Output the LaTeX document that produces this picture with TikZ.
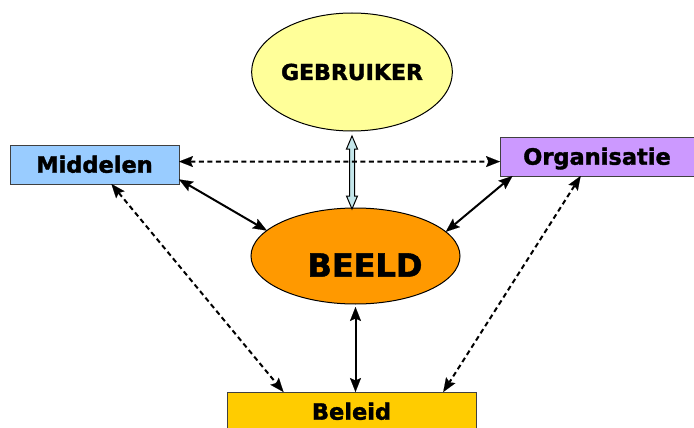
\documentclass[tikz,border=0pt]{standalone}
\usepackage{fontspec}
\setmainfont{DejaVu Sans}
\newfontfamily\heavy{DejaVu Sans Bold}[FakeBold=1.6]
\usepackage{xcolor}
\usetikzlibrary{shapes.geometric,arrows.meta,calc}
\definecolor{userfill}{HTML}{FFFF99}
\definecolor{imgfill}{HTML}{FF9900}
\definecolor{meansfill}{HTML}{99CCFF}
\definecolor{orgfill}{HTML}{CC99FF}
\definecolor{policyfill}{HTML}{FFCC00}
\definecolor{linkfill}{HTML}{C4E6EA}
\definecolor{boxline}{HTML}{404040}
\tikzset{
  linkhead/.tip={Stealth[length=14pt,width=11pt,inset=2.5pt,line width=0.1pt]},
  oval/.style={ellipse, draw=black, line width=1pt, inner sep=0pt, outer sep=0pt},
  box/.style={rectangle, draw=boxline, line width=1pt, inner sep=0pt, outer sep=0pt,
    minimum height=39pt, font=\heavy\fontsize{22.5}{24}\selectfont,
    text height=16.4pt, text depth=0pt},
  solidlink/.style={line width=2pt, linkhead-linkhead},
  dashlink/.style={solidlink, dash pattern=on 5pt off 3.5pt},
  blocklink/.style={draw=black, fill=linkfill, line width=1pt, line join=miter}
}
\begin{document}
\begin{tikzpicture}[x=1pt,y=-1pt]
\clip (0,0) rectangle (694,428);
% ovals
\node[oval, fill=userfill, minimum width=196pt, minimum height=118pt,
  font=\heavy\fontsize{22}{24}\selectfont, text height=16pt, text depth=0pt] (user) at (352,72) {GEBRUIKER};
\node[oval, fill=imgfill, minimum width=209pt, minimum height=96pt] (beeld) at (355.5,256) {};
\node[font=\heavy\fontsize{32}{34}\selectfont, text height=23.4pt, text depth=0pt, inner sep=0pt] (beeldlbl) at (365,265) {BEELD};
% boxes
\node[box, fill=meansfill, minimum width=169pt] (mid) at (94.5,164.5) {Middelen};
\node[box, fill=orgfill, minimum width=194pt] (org) at (597,156.5) {Organisatie};
\node[box, fill=policyfill, minimum width=249pt] (beleid) at (351.5,411.5) {Beleid};
% block arrow
\draw[blocklink] ($(user.south)+(0,5)$) coordinate (ut) -- ++(5.5,13) -- ++(-3,0) -- ++(0,47)
  -- ++(3,0) -- ++(-5.5,13) -- ++(-5.5,-13) -- ++(3,0) -- ++(0,-47) -- ++(-3,0) -- cycle;
% links
\draw[dashlink] (mid.2) -- (org.183);
\draw[solidlink] (mid.-10) -- (beeld.164);
\draw[solidlink] (org.193) -- (beeld.15);
\draw[dashlink] (mid.-49) -- (beleid.164);
\draw[dashlink] (org.230) -- (beleid.12);
\draw[solidlink] ([yshift=-3pt]beeld.south) -- (beeld.south |- beleid.north);
\end{tikzpicture}
\end{document}
